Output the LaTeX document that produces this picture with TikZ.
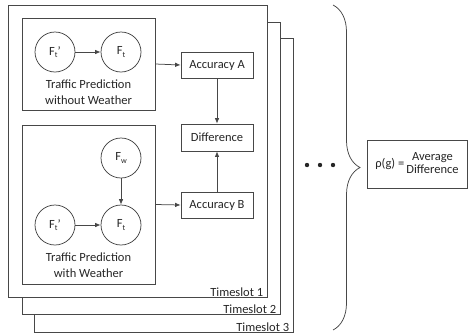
\documentclass[tikz,border=0pt]{standalone}
\usepackage{fontspec}
\setmainfont{Carlito}
\usetikzlibrary{arrows.meta,decorations.pathreplacing}
\begin{document}
\begin{tikzpicture}[x=1pt,y=-1pt,
  every node/.style={font=\fontsize{12.5}{15.5}\selectfont, text=black!85},
  lc/.style={draw=black!72, line width=0.75pt},
  frame/.style={lc, fill=white, inner sep=0pt},
  box/.style={lc, fill=white, inner sep=0pt},
  circ/.style={lc, circle, fill=white, minimum size=40pt, inner sep=0pt},
  arr/.style={lc, -{Latex[length=5.5pt,width=4.5pt]}},
  tslabel/.style={anchor=south east, inner xsep=4pt, inner ysep=0.5pt}
]
\useasboundingbox (0,0) rectangle (470,335);
% timeslot frames
\node[frame, minimum width=259pt, minimum height=294pt] (ts3) at (163.5,185) {};
\node[tslabel] at (ts3.south east) {Timeslot 3};
\node[frame, minimum width=258pt, minimum height=292pt] (ts2) at (151,168) {};
\node[tslabel] at (ts2.south east) {Timeslot 2};
\node[frame, minimum width=259pt, minimum height=292pt] (ts1) at (137.5,151) {};
\node[tslabel] at (ts1.south east) {Timeslot 1};
% inner boxes
\node[box, minimum width=133pt, minimum height=92pt] (boxA) at (88.5,64) {};
\node[box, minimum width=133pt, minimum height=159pt] (boxB) at (88.5,204.5) {};
% circles A
\node[circ] (ftpA) at (55,52) {F\raisebox{-0.35ex}{\footnotesize t}\raisebox{0.1ex}{'}};
\node[circ] (ftA) at (121,52) {F\raisebox{-0.35ex}{\footnotesize t}};
\node[align=center, inner sep=0pt] (labA) at (88.5,92) {Traffic Prediction\\without Weather};
\draw[arr] (ftpA) -- (ftA);
% circles B
\node[circ] (fw) at (121,158) {F\raisebox{-0.35ex}{\footnotesize w}};
\node[circ] (ftpB) at (55,225) {F\raisebox{-0.35ex}{\footnotesize t}\raisebox{0.1ex}{'}};
\node[circ] (ftB) at (121,225) {F\raisebox{-0.35ex}{\footnotesize t}};
\node[align=center, inner sep=0pt] (labB) at (88.5,265) {Traffic Prediction\\with Weather};
\draw[arr] (ftpB) -- (ftB);
\draw[arr] (fw) -- (ftB);
% accuracy boxes
\node[box, minimum width=72pt, minimum height=26pt] (accA) at (217,65) {Accuracy A};
\node[box, minimum width=72pt, minimum height=27pt] (diff) at (217,137.5) {Difference};
\node[box, minimum width=72pt, minimum height=26pt] (accB) at (217,205) {Accuracy B};
\draw[arr] (boxA.east) -- (accA.west);
\draw[arr] (boxB.east) -- (accB.west);
\draw[arr] (accA) -- (diff);
\draw[arr] (accB) -- (diff);
% dots
\fill[black!85] (307,165) circle (2.2pt) (320,165) circle (2.2pt) (333,165) circle (2.2pt);
% brace
\coordinate (bt) at (333,5);
\coordinate (bb) at (333,330);
\draw[lc, decorate, decoration={brace, amplitude=27pt}] (bt) -- (bb);
% formula
\node[box, minimum width=100pt, minimum height=48pt] (rho) at (417,164)
  {$\vcenter{\hbox{ρ(g) =}}$\,$\vcenter{\hbox{\begin{tabular}{@{}c@{}}Average\\[-3pt]Difference\end{tabular}}}$};
\end{tikzpicture}
\end{document}
